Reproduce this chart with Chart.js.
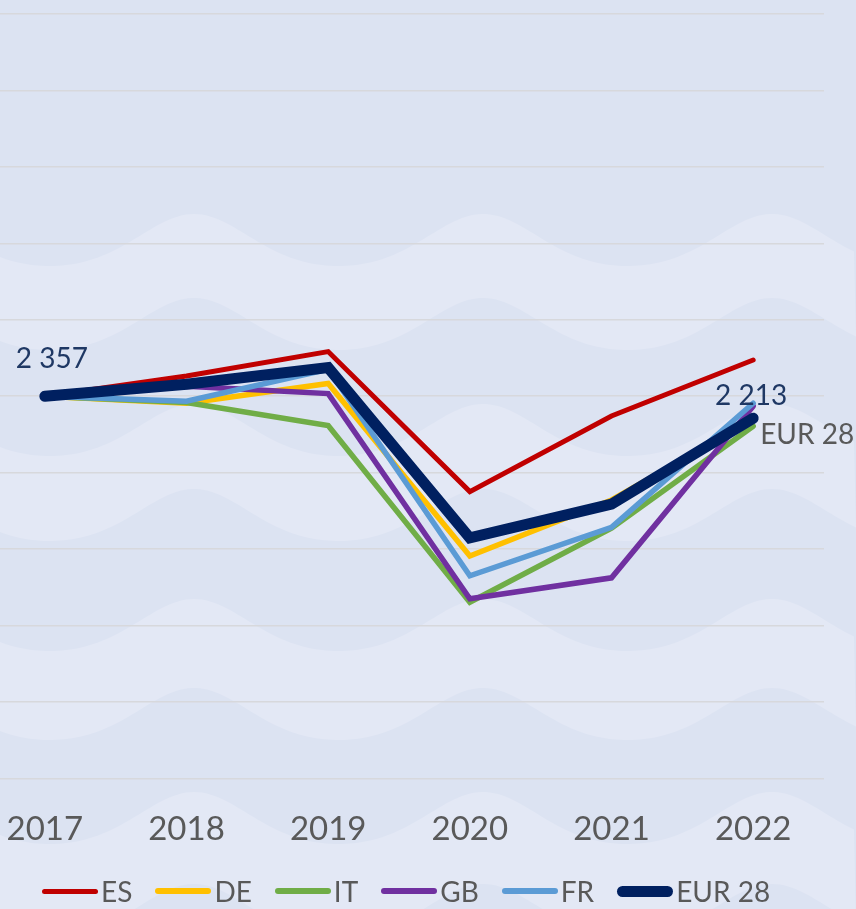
<!DOCTYPE html>
<html>
<head>
<meta charset="utf-8">
<script src="https://cdn.jsdelivr.net/npm/chart.js@4.4.1/dist/chart.umd.min.js"></script>
<style>
  html, body { margin: 0; padding: 0; background: #dce3f2; }
  #wrap { position: relative; width: 856px; height: 909px; overflow: hidden; }
  #trendChart { position: absolute; left: -26px; top: 0; }
  #legend { position: absolute; left: 42px; top: 874px; display: flex; align-items: center;
            font-family: Lato, sans-serif; font-size: 28px; color: #595959; }
  .item { display: flex; align-items: center; margin-right: 23px; }
  .swatch { width: 56px; border-radius: 6px; margin-right: 3px; }
</style>
</head>
<body>
<div id="wrap">
  <canvas id="trendChart" width="882" height="909"></canvas>
  <div id="legend"></div>
</div>
<script>
const years = ['2017', '2018', '2019', '2020', '2021', '2022'];

const esValues  = [2357, 2489, 2649, 1733, 2228, 2594];
const deValues  = [2357, 2311, 2440, 1312, 1678, 2200];
const itValues  = [2357, 2316, 2165, 1009, 1494, 2161];
const gbValues  = [2357, 2422, 2374, 1032, 1169, 2292];
const frValues  = [2357, 2324, 2533, 1182, 1499, 2311];
const eurValues = [2357, 2435, 2544, 1430, 1651, 2213];

// gridlines (no labels shown on the axis)
const gridValues = [-143, 357, 857, 1357, 1857, 2357, 2857, 3357, 3857, 4357, 4857];

const series = [
  { label: 'ES',     data: esValues,  color: '#c00000', width: 5 },
  { label: 'DE',     data: deValues,  color: '#ffc000', width: 5.5 },
  { label: 'IT',     data: itValues,  color: '#70ad47', width: 5.5 },
  { label: 'GB',     data: gbValues,  color: '#7030a0', width: 5.5 },
  { label: 'FR',     data: frValues,  color: '#5b9bd5', width: 5.5 },
  { label: 'EUR 28', data: eurValues, color: '#002060', width: 11 }
];

// soft wave bands behind the plot
const waveRows = [240, 324, 430, 515, 625, 714, 818, 910];

const waveBackground = {
  id: 'waveBackground',
  beforeDraw(chart) {
    const ctx = chart.ctx;
    const w = chart.width, h = chart.height;
    ctx.save();
    ctx.fillStyle = '#dce3f2';
    ctx.fillRect(0, 0, w, h);
    const waveY = (x, c) => {
      const px = x - 26;
      const t = 2 * Math.PI * (px - 194) / 289;
      return c - 26 * Math.cos(t + 0.25 * Math.sin(t));
    };
    ctx.fillStyle = '#e3e8f5';
    for (let i = 0; i + 1 < waveRows.length; i += 2) {
      ctx.beginPath();
      for (let x = 0; x <= w; x += 4) ctx.lineTo(x, waveY(x, waveRows[i]));
      for (let x = w; x >= 0; x -= 4) ctx.lineTo(x, waveY(x, waveRows[i + 1]));
      ctx.closePath();
      ctx.fill();
    }
    ctx.restore();
  }
};

const fmt = v => String(v).replace(/\B(?=(\d{3})+(?!\d))/g, ' ');

const endLabels = {
  id: 'endLabels',
  afterDatasetsDraw(chart) {
    const idx = chart.data.datasets.length - 1;
    const ds = chart.data.datasets[idx];
    const pts = chart.getDatasetMeta(idx).data;
    const first = pts[0], last = pts[pts.length - 1];
    const ctx = chart.ctx;
    ctx.save();
    ctx.font = '28px Lato, sans-serif';
    ctx.textBaseline = 'middle';
    ctx.textAlign = 'center';
    ctx.fillStyle = '#1f3864';
    ctx.fillText(fmt(ds.data[0]), first.x + 7, first.y - 37);
    ctx.fillText(fmt(ds.data[ds.data.length - 1]), last.x - 2, last.y - 22);
    ctx.textAlign = 'left';
    ctx.fillStyle = '#595959';
    ctx.fillText(ds.label, last.x + 7, last.y + 17);
    ctx.restore();
  }
};

const ctx = document.getElementById('trendChart').getContext('2d');
const chart = new Chart(ctx, {
  type: 'line',
  data: {
    labels: years,
    datasets: series.map((s, i) => ({
      label: s.label,
      data: s.data,
      borderColor: s.color,
      backgroundColor: s.color,
      borderWidth: s.width,
      borderCapStyle: 'round',
      borderJoinStyle: 'miter',
      pointRadius: 0,
      tension: 0,
      fill: false,
      order: series.length - i
    }))
  },
  options: {
    responsive: false,
    animation: false,
    devicePixelRatio: 1,
    layout: { padding: { top: 14, right: 32, bottom: 37, left: 0 } },
    plugins: { legend: { display: false }, tooltip: { enabled: false } },
    scales: {
      x: {
        offset: true,
        grid: { display: false },
        border: { display: false },
        ticks: { color: '#595959', font: { family: 'Lato', size: 33 }, padding: 23 }
      },
      y: {
        min: gridValues[0],
        max: gridValues[gridValues.length - 1],
        afterBuildTicks: s => { s.ticks = gridValues.map(v => ({ value: v })); },
        grid: { color: '#d7d8dc', lineWidth: 1.6, drawTicks: false },
        border: { display: false },
        ticks: { display: false }
      }
    }
  },
  plugins: [waveBackground, endLabels]
});

// legend
const legend = document.getElementById('legend');
series.forEach(s => {
  const item = document.createElement('div');
  item.className = 'item';
  const sw = document.createElement('span');
  sw.className = 'swatch';
  sw.style.height = s.width + 'px';
  sw.style.background = s.color;
  const txt = document.createElement('span');
  txt.textContent = s.label;
  item.appendChild(sw);
  item.appendChild(txt);
  legend.appendChild(item);
});
</script>
</body>
</html>
